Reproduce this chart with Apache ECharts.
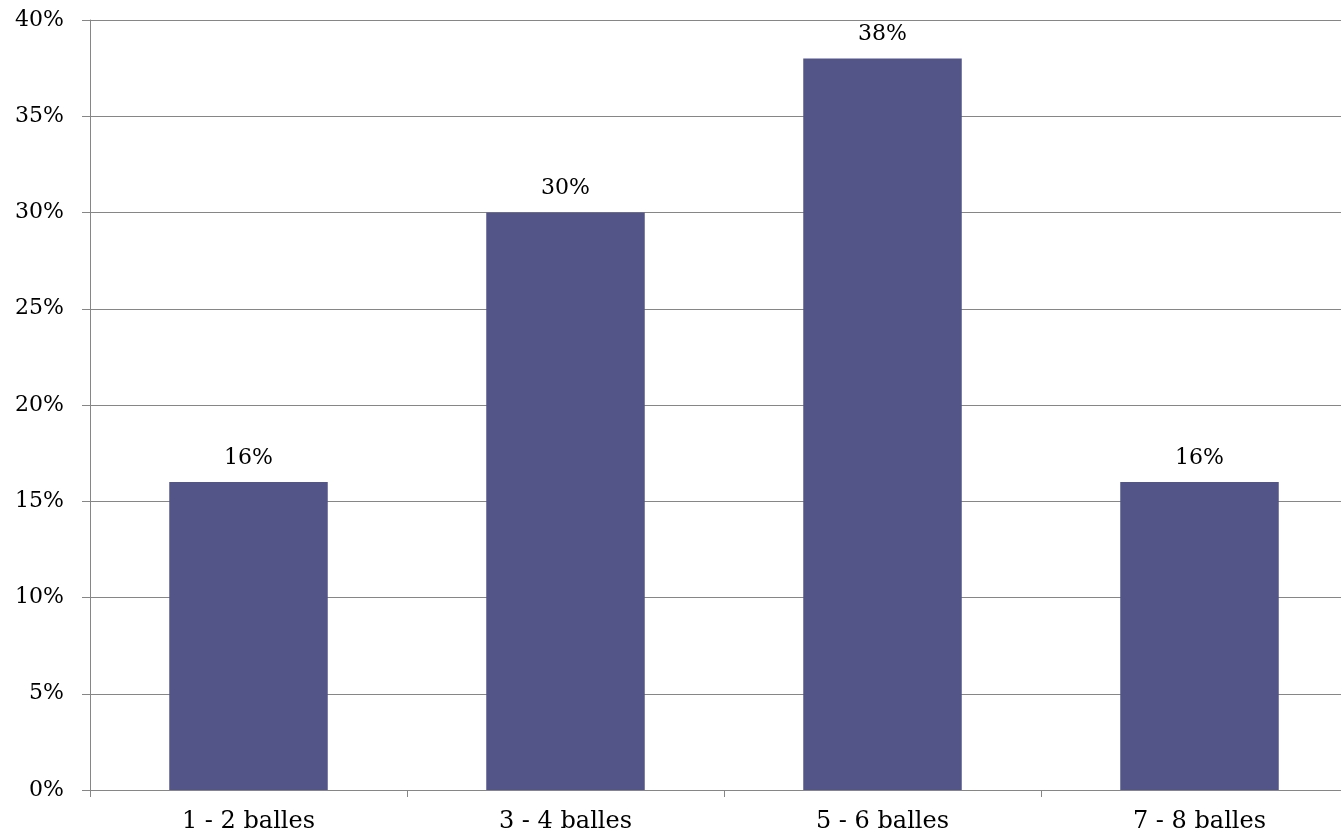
<!DOCTYPE html>
<html>
<head>
<meta charset="utf-8">
<script src="https://cdn.jsdelivr.net/npm/echarts@6/dist/echarts.min.js"></script>
<style>html,body{margin:0;padding:0;background:#fff;overflow:hidden}#c{width:1358px;height:836px}</style>
</head>
<body>
<div id="c"></div>
<script>
const categories = ['1 - 2 balles', '3 - 4 balles', '5 - 6 balles', '7 - 8 balles'];
const values = [16, 30, 38, 16];
const yTicks = [0, 5, 10, 15, 20, 25, 30, 35, 40];

const FONT = 'DejaVu Serif';
const chart = echarts.init(document.getElementById('c'), null, {renderer: 'canvas'});
chart.setOption({
  animation: false,
  grid: {left: 90, right: 0, top: 20, bottom: 46, containLabel: false},
  xAxis: {
    type: 'category',
    data: categories,
    axisLine: {lineStyle: {color: '#868686', width: 1}},
    axisTick: {show: true, length: 7, lineStyle: {color: '#868686'}},
    axisLabel: {color: '#000', fontFamily: FONT, fontSize: 24, margin: 20}
  },
  yAxis: {
    type: 'value',
    min: yTicks[0],
    max: yTicks[yTicks.length - 1],
    interval: 5,
    axisLine: {show: true, lineStyle: {color: '#868686', width: 1}},
    axisTick: {show: true, length: 8, lineStyle: {color: '#868686'}},
    splitLine: {lineStyle: {color: '#868686', width: 1}},
    axisLabel: {color: '#000', fontFamily: FONT, fontSize: 22, margin: 26, formatter: v => v + '%'}
  },
  series: [{
    type: 'bar',
    data: values,
    barWidth: '50%',
    itemStyle: {color: '#535487'},
    label: {show: true, position: 'top', distance: 13, color: '#000', fontFamily: FONT, fontSize: 22, formatter: p => p.value + '%'}
  }]
});
</script>
</body>
</html>
